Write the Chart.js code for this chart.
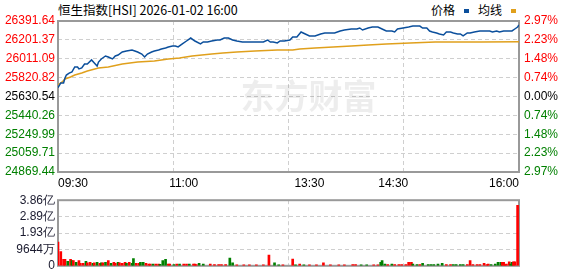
<!DOCTYPE html>
<html>
<head>
<meta charset="utf-8">
<script src="https://cdn.jsdelivr.net/npm/chart.js@4.4.1/dist/chart.umd.min.js"></script>
<style>
  body { margin: 0; background: #fff; width: 578px; height: 276px; overflow: hidden; position: relative; }
  #title { position: absolute; left: 58px; top: 0px; font: 12.5px "Noto Sans CJK SC", sans-serif; color: #000; white-space: nowrap; }
  #legend { position: absolute; left: 431px; top: 1px; font: 12px "Noto Sans CJK SC", sans-serif; color: #000; white-space: nowrap; }
  #legend i { display: inline-block; width: 5px; height: 4px; margin: 0 9px 2px 9px; vertical-align: middle; }
  #main { position: absolute; left: 0; top: 0; }
  #vol { position: absolute; left: 0; top: 190px; }
</style>
</head>
<body>
<div id="title">恒生指数[HSI] 2026-01-02 16:00</div>
<div id="legend">价格<i style="background:#0b4f9c"></i>均线<i style="background:#e0a01c"></i></div>
<canvas id="main" width="578" height="190"></canvas>
<canvas id="vol" width="578" height="86"></canvas>
<script>
// ---- data ----
const prevClose = 25630.54;

const priceTicks = [26391.64, 26201.37, 26011.09, 25820.82, 25630.54, 25440.26, 25249.99, 25059.71, 24869.44];
const pctLabels = ['2.97%', '2.23%', '1.48%', '0.74%', '0.00%', '0.74%', '1.48%', '2.23%', '2.97%'];

// minutes since 09:30 (trading minutes, 0..330)
const timeTicks = [0, 90, 180, 240, 330];
const timeLabels = ['09:30', '11:00', '13:30', '14:30', '16:00'];
const gridMinutes = [82.5, 165, 247.5];

const priceMin = [0, 2, 4, 5, 6, 8, 10, 12, 14, 15, 17, 19, 21, 24, 26, 28, 29, 31, 34, 36, 39, 41, 43, 46, 49, 53, 55, 57, 60, 62,
  64, 67, 69, 72, 74, 77, 79, 82, 84, 86, 89, 92, 95, 98, 102, 104, 107, 110, 114, 116, 119, 122, 125, 128, 132, 135, 139, 143, 147, 150,
  152, 154, 157, 159, 162, 166, 168, 171, 174, 177, 180, 184, 188, 191, 195, 198, 202, 205, 210, 214, 216, 218, 222, 225, 229, 232, 235, 239, 241, 243,
  247, 251, 254, 259, 261, 264, 266, 268, 271, 273, 276, 278, 281, 283, 286, 288, 290, 293, 295, 298, 302, 306, 309, 311, 314, 316, 319, 321, 325, 327,
  329, 330];
const priceVal = [25719, 25767, 25767, 25817, 25847, 25867, 25878, 25928, 25928, 25908, 25918, 25958, 25958, 25999, 25968, 25938, 25978, 26009, 26039, 26029, 26009, 26039, 26049, 26079, 26089, 26099, 26089, 26079, 26059, 26029,
  26059, 26079, 26089, 26099, 26109, 26120, 26130, 26140, 26140, 26130, 26160, 26190, 26220, 26190, 26160, 26180, 26180, 26190, 26200, 26200, 26220, 26220, 26200, 26190, 26180, 26180, 26180, 26180, 26180, 26200,
  26180, 26180, 26170, 26190, 26190, 26200, 26230, 26230, 26281, 26261, 26241, 26241, 26261, 26271, 26271, 26271, 26291, 26301, 26311, 26311, 26321, 26301, 26321, 26331, 26331, 26311, 26291, 26291, 26281, 26311,
  26321, 26331, 26341, 26341, 26321, 26321, 26291, 26281, 26271, 26261, 26251, 26281, 26281, 26271, 26261, 26261, 26241, 26271, 26271, 26281, 26291, 26291, 26291, 26281, 26291, 26281, 26291, 26291, 26291, 26311,
  26331, 26351];

const avgMin = [0, 3, 5, 9, 12, 17, 21, 29, 36, 46, 57, 69, 79, 87, 96, 103, 110, 118, 128, 141, 157, 168, 173, 184, 197, 210, 222, 235, 252, 270, 303, 330];
const avgVal = [25747, 25777, 25807, 25827, 25847, 25867, 25888, 25918, 25928, 25958, 25978, 25988, 26009, 26019, 26039, 26049, 26059, 26069, 26079, 26089, 26099, 26099, 26109, 26120, 26130, 26140, 26150, 26160, 26170, 26180, 26180, 26182];

// volume, in 万 (10k shares); up = 1 red, 0 green
const volTicks = [0, 9644.25, 19288.5, 28932.75, 38577];
const volLabels = ['0', '9644万', '1.93亿', '2.89亿', '3.86亿'];
const volMin = [0, 2, 4, 5, 7, 9, 10, 11, 13, 15, 16, 18, 20, 21, 23, 25, 26, 28, 30, 31, 32, 34, 36, 38, 40, 41, 43, 44, 46, 48,
  49, 51, 53, 54, 56, 58, 59, 61, 63, 65, 66, 68, 70, 72, 73, 75, 77, 79, 80, 83, 85, 87, 90, 92, 94, 97, 98, 99, 101, 104,
  109, 112, 115, 117, 120, 123, 125, 128, 133, 137, 142, 147, 151, 155, 158, 161, 168, 170, 173, 176, 180, 185, 190, 195, 201, 205, 211, 213, 217, 221,
  226, 229, 231, 232, 234, 236, 239, 241, 244, 246, 249, 251, 253, 254, 257, 259, 261, 265, 267, 269, 272, 275, 278, 281, 283, 285, 288, 290, 293, 295,
  297, 300, 302, 305, 307, 308, 310, 313, 315, 317, 318, 319, 320, 321, 323, 324, 325, 326, 327, 329];
const volVal = [13900, 8340, 3800, 3800, 2600, 3800, 3100, 3100, 2100, 3100, 1400, 1400, 2600, 1700, 2100, 1400, 1700, 2100, 1400, 1700, 1700, 2100, 3100, 1400, 2100, 1400, 2100, 1700, 1400, 2100,
  1400, 2100, 1400, 4300, 1400, 1400, 2100, 2100, 1400, 1000, 1000, 1000, 1000, 1000, 870, 3100, 3800, 1000, 1000, 700, 1000, 1000, 1000, 1000, 1000, 1000, 1000, 700, 1400, 1000,
  1000, 700, 700, 700, 700, 4500, 1700, 500, 500, 500, 500, 500, 6300, 1700, 500, 500, 4000, 500, 1000, 500, 500, 500, 1700, 500, 500, 500, 700, 700, 500, 500,
  500, 500, 2100, 3100, 1000, 700, 1000, 700, 700, 700, 700, 2100, 2100, 1000, 700, 700, 1400, 700, 700, 700, 1000, 1400, 700, 700, 700, 700, 700, 700, 700, 3100,
  700, 700, 700, 1400, 700, 1000, 700, 1000, 2100, 2100, 2100, 2100, 700, 1000, 2400, 1000, 2100, 2400, 2400, 35500];
const volUp = [1, 1, 1, 1, 0, 1, 0, 1, 0, 1, 1, 1, 0, 1, 1, 0, 1, 0, 1, 0, 1, 0, 1, 0, 1, 1, 0, 1, 1, 1,
  0, 1, 0, 0, 1, 1, 0, 0, 1, 1, 1, 0, 1, 1, 0, 0, 0, 1, 1, 0, 1, 0, 1, 1, 0, 1, 1, 1, 0, 0,
  1, 1, 1, 1, 1, 0, 0, 1, 1, 1, 1, 1, 1, 0, 0, 1, 1, 0, 1, 0, 1, 1, 1, 1, 1, 1, 1, 1, 0, 0,
  1, 1, 0, 0, 0, 1, 0, 1, 1, 1, 1, 1, 1, 0, 0, 1, 0, 0, 0, 0, 0, 0, 1, 1, 0, 0, 0, 0, 1, 1,
  1, 1, 1, 1, 1, 1, 0, 0, 0, 0, 1, 1, 1, 1, 1, 0, 0, 1, 1, 1];

// ---- colours ----
const RED = '#ff0000';
const GREEN = '#008000';
const GRID = '#cfcfcf';
const FRAME = '#999999';
const LABEL_FONT = { family: '"Liberation Sans", Arial, sans-serif', size: 12 };

function priceColor(v) {
  if (v > prevClose + 0.005) return RED;
  if (v < prevClose - 0.005) return GREEN;
  return '#000';
}

// plot frame, drawn under the marks so the last bar stays visible
const framePlugin = {
  id: 'frame',
  beforeDatasetsDraw(chart) {
    const a = chart.chartArea;
    const c = chart.ctx;
    c.save();
    c.strokeStyle = FRAME;
    c.lineWidth = 2;
    c.strokeRect(a.left, a.top, a.right - a.left, a.bottom - a.top);
    c.restore();
  }
};

const watermark = {
  id: 'watermark',
  beforeDatasetsDraw(chart) {
    const a = chart.chartArea;
    const c = chart.ctx;
    c.save();
    c.fillStyle = 'rgba(0,0,0,0.07)';
    c.font = 'bold 34px "Noto Sans CJK SC", sans-serif';
    c.textAlign = 'center';
    c.textBaseline = 'middle';
    c.fillText('东方财富', (a.left + a.right) / 2 + 20, (a.top + a.bottom) / 2);
    c.restore();
  }
};

new Chart(document.getElementById('main'), {
  type: 'line',
  data: {
    datasets: [{
      label: '价格',
      data: priceMin.map((m, i) => ({ x: m, y: priceVal[i] })),
      borderColor: '#0b4f9c',
      borderWidth: 1.5,
      pointRadius: 0,
      tension: 0,
      yAxisID: 'y'
    }, {
      label: '均线',
      data: avgMin.map((m, i) => ({ x: m, y: avgVal[i] })),
      borderColor: '#e0a01c',
      borderWidth: 1.5,
      pointRadius: 0,
      tension: 0,
      yAxisID: 'y'
    }]
  },
  options: {
    responsive: false,
    animation: false,
    layout: { padding: { top: 21, left: 0, right: 0, bottom: 0 } },
    plugins: { legend: { display: false }, tooltip: { enabled: false } },
    scales: {
      x: {
        type: 'linear', min: 0, max: 330,
        grid: { display: false, drawTicks: false },
        border: { display: false },
        afterBuildTicks: s => { s.ticks = timeTicks.map(v => ({ value: v })); },
        afterFit: s => { s.height = 18; },
        ticks: {
          autoSkip: false, maxRotation: 0, align: 'inner', padding: 4,
          color: '#000', font: LABEL_FONT,
          callback: (v, i) => timeLabels[i]
        }
      },
      xg: {
        type: 'linear', min: 0, max: 330, position: 'bottom',
        grid: { color: GRID, drawTicks: false },
        border: { display: false, dash: [4, 3] },
        afterBuildTicks: s => { s.ticks = gridMinutes.map(v => ({ value: v })); },
        afterFit: s => { s.height = 0; },
        ticks: { display: false }
      },
      y: {
        position: 'left', min: priceTicks[8], max: priceTicks[0],
        grid: { color: GRID, drawTicks: false },
        border: { display: false, dash: [4, 3] },
        afterBuildTicks: s => { s.ticks = priceTicks.map(v => ({ value: v })); },
        afterFit: s => { s.width = 58; },
        ticks: {
          padding: 3, font: LABEL_FONT, autoSkip: false,
          color: ctx => priceColor(ctx.tick.value),
          callback: v => v.toFixed(2)
        }
      },
      y1: {
        position: 'right', min: priceTicks[8], max: priceTicks[0],
        grid: { display: false, drawTicks: false },
        border: { display: false },
        afterBuildTicks: s => { s.ticks = priceTicks.map(v => ({ value: v })); },
        afterFit: s => { s.width = 59; },
        ticks: {
          padding: 5, font: LABEL_FONT, autoSkip: false,
          color: ctx => priceColor(ctx.tick.value),
          callback: (v, i) => pctLabels[i]
        }
      }
    }
  },
  plugins: [watermark, framePlugin]
});

new Chart(document.getElementById('vol'), {
  type: 'bar',
  data: {
    datasets: [{
      data: volMin.map((m, i) => ({ x: m, y: volVal[i] })),
      backgroundColor: volUp.map(u => u ? RED : GREEN),
      barThickness: 2,
      borderWidth: 0
    }]
  },
  options: {
    responsive: false,
    animation: false,
    layout: { padding: { top: 6, left: 0, right: 59, bottom: 6 } },
    plugins: { legend: { display: false }, tooltip: { enabled: false } },
    scales: {
      x: {
        type: 'linear', min: 0, max: 330, offset: false,
        grid: { color: GRID, drawTicks: false, offset: false },
        border: { display: false, dash: [4, 3] },
        afterBuildTicks: s => { s.ticks = gridMinutes.map(v => ({ value: v })); },
        afterFit: s => { s.height = 0; },
        ticks: { display: false }
      },
      y: {
        position: 'left', min: 0, max: volTicks[4],
        grid: { color: GRID, drawTicks: false },
        border: { display: false, dash: [4, 3] },
        afterBuildTicks: s => { s.ticks = volTicks.map(v => ({ value: v })); },
        afterFit: s => { s.width = 58; },
        ticks: {
          padding: 3, font: LABEL_FONT, color: '#1a1a2e', autoSkip: false,
          callback: (v, i) => volLabels[i]
        }
      }
    }
  },
  plugins: [framePlugin]
});
</script>
</body>
</html>
